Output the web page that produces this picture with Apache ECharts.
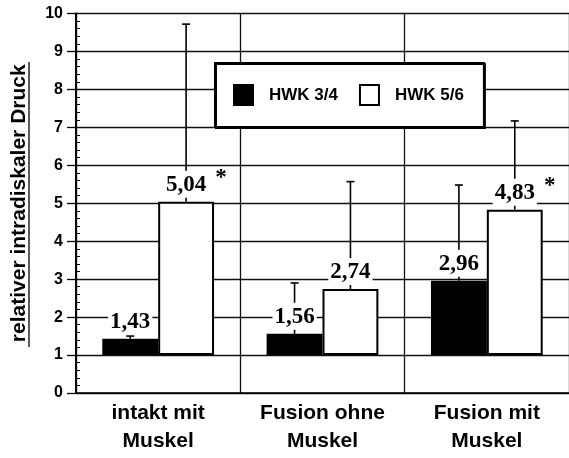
<!DOCTYPE html>
<html>
<head>
<meta charset="utf-8">
<script src="https://cdn.jsdelivr.net/npm/echarts@6/dist/echarts.min.js"></script>
<style>html,body{margin:0;padding:0;background:#fff}#c{width:569px;height:458px}</style>
</head>
<body>
<div id="c"></div>
<script>
const categories = ['intakt mit\nMuskel', 'Fusion ohne\nMuskel', 'Fusion mit\nMuskel'];
const seriesNames = ['HWK 3/4', 'HWK 5/6'];
const hwk34 = [1.43, 1.56, 2.96];
const hwk56 = [5.04, 2.74, 4.83];
const hwk34ErrTop = [1.50, 2.90, 5.48];
const hwk56ErrTop = [9.72, 5.57, 7.17];
const hwk34Marks = ['', '', ''];
const hwk56Marks = ['*', '', '*'];
const baseline = 1;
const yMin = 0, yMax = 10, yInterval = 1;

const fmt = v => v.toFixed(2).replace('.', ',');
const BAR_W = 0.34;

const errData = [];
categories.forEach((c, i) => {
  errData.push({ value: [i, 0, hwk34[i], hwk34ErrTop[i]], mark: hwk34Marks[i] });
  errData.push({ value: [i, 1, hwk56[i], hwk56ErrTop[i]], mark: hwk56Marks[i] });
});

const labelStyle = {
  show: true, position: 'top', distance: 4,
  fontFamily: 'Liberation Serif', fontWeight: 'bold', fontSize: 23, color: '#000',
  backgroundColor: '#fff', padding: [3, 2, 1, 2]
};

const chart = echarts.init(document.getElementById('c'), null, { renderer: 'canvas' });
chart.setOption({
  animation: false,
  backgroundColor: '#fff',
  grid: { left: 76, right: -2, top: 13.5, bottom: 65 },
  legend: {
    data: seriesNames,
    left: 215, top: 63,
    orient: 'horizontal',
    padding: [21, 20, 21, 18],
    itemWidth: 19, itemHeight: 20, itemGap: 21,
    backgroundColor: '#fff', borderColor: '#000', borderWidth: 2,
    shadowColor: '#000', shadowOffsetX: 1, shadowOffsetY: 1, shadowBlur: 0,
    icon: 'rect',
    textStyle: { fontFamily: 'Liberation Sans', fontWeight: 'bold', fontSize: 17, color: '#000', padding: [0, 0, 0, 11] },
    selectedMode: false
  },
  xAxis: {
    type: 'category', data: categories, boundaryGap: true,
    axisLine: { show: true, lineStyle: { color: '#000', width: 1.5 } },
    axisTick: { show: false },
    axisLabel: { interval: 0, margin: 6, fontFamily: 'Liberation Sans', fontWeight: 'bold', fontSize: 21, lineHeight: 28, color: '#000' },
    splitLine: { show: true, interval: 0, lineStyle: { color: '#111', width: 1.3 } }
  },
  yAxis: [{
    type: 'value', min: yMin, max: yMax, interval: yInterval, position: 'left',
    name: 'relativer intradiskaler Druck', nameLocation: 'middle', nameRotate: 90, nameGap: 46,
    nameTextStyle: { fontFamily: 'Liberation Sans', fontWeight: 'bold', fontSize: 21, color: '#000' },
    axisLine: { show: true, lineStyle: { color: '#000', width: 2 } },
    axisTick: { show: true, inside: false, length: 9, lineStyle: { color: '#000', width: 1.3 } },
    axisLabel: { margin: 13, fontFamily: 'Liberation Sans', fontWeight: 'bold', fontSize: 16, color: '#000' },
    splitLine: { show: true, lineStyle: { color: '#111', width: 1.3 } }
  }, {
    type: 'value', min: yMin, max: yMax, interval: yInterval, position: 'left',
    axisLine: { show: false },
    axisTick: { show: false, inside: true },
    minorTick: { show: true, splitNumber: 5, length: 4, lineStyle: { color: '#000', width: 1 } },
    axisLabel: { show: false },
    splitLine: { show: false }
  }],
  graphic: [{
    type: 'line', z: 100,
    shape: { x1: 29, y1: 62, x2: 29, y2: 347 },
    style: { stroke: '#000', lineWidth: 1.3 }
  }],
  series: [
    { type: 'bar', name: 'base34', stack: 's1', barWidth: (BAR_W * 100) + '%', barGap: '0%', z: 2, silent: true,
      data: hwk34.map(() => baseline), itemStyle: { color: 'rgba(0,0,0,0)' } },
    { type: 'bar', name: seriesNames[0], stack: 's1', barWidth: (BAR_W * 100) + '%', barGap: '0%', z: 2,
      data: hwk34.map(v => v - baseline),
      itemStyle: { color: '#000', borderColor: '#000', borderWidth: 1.5 },
      label: Object.assign({}, labelStyle, { formatter: p => fmt(hwk34[p.dataIndex]) }) },
    { type: 'bar', name: 'base56', stack: 's2', barWidth: (BAR_W * 100) + '%', barGap: '0%', z: 2, silent: true,
      data: hwk56.map(() => baseline), itemStyle: { color: 'rgba(0,0,0,0)' } },
    { type: 'bar', name: seriesNames[1], stack: 's2', barWidth: (BAR_W * 100) + '%', barGap: '0%', z: 2,
      data: hwk56.map(v => v - baseline),
      itemStyle: { color: '#fff', borderColor: '#000', borderWidth: 2 },
      label: Object.assign({}, labelStyle, { formatter: p => fmt(hwk56[p.dataIndex]) }) },
    { type: 'custom', name: 'err', z: 1, silent: true,
      data: errData,
      renderItem: function (params, api) {
        const cat = api.value(0), g = api.value(1), v = api.value(2), e = api.value(3);
        const band = api.size([1, 0])[0];
        const bw = band * BAR_W;
        const top = api.coord([cat, v]);
        const cx = top[0] + (g === 0 ? -1 : 1) * bw / 2;
        const yTop = top[1];
        const yErr = api.coord([cat, e])[1];
        const children = [
          { type: 'line', shape: { x1: cx, y1: yTop, x2: cx, y2: yErr }, style: { stroke: '#000', lineWidth: 1.6 } },
          { type: 'line', shape: { x1: cx - 4, y1: yErr, x2: cx + 4, y2: yErr }, style: { stroke: '#000', lineWidth: 1.6 } }
        ];
        const mark = errData[params.dataIndex].mark;
        if (mark) {
          children.push({ type: 'text', z2: 50, style: { text: mark, x: cx + 35, y: yTop - 24,
            fill: '#000', font: 'bold 23px "Liberation Serif"', textAlign: 'center', textVerticalAlign: 'middle' } });
        }
        return { type: 'group', children: children };
      }
    }
  ]
});
</script>
</body>
</html>
